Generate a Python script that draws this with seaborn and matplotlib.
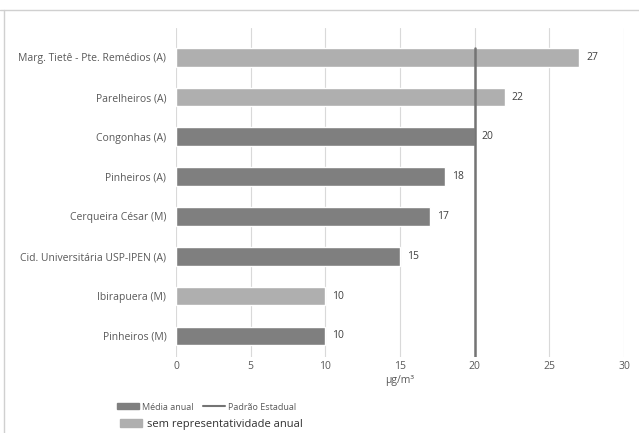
import pandas as pd
import seaborn as sns
import matplotlib.pyplot as plt
from matplotlib.patches import Patch
from matplotlib.lines import Line2D

# dados
estacoes = ["Marg. Tietê - Pte. Remédios (A)", "Parelheiros (A)", "Congonhas (A)",
            "Pinheiros (A)", "Cerqueira César (M)", "Cid. Universitária USP-IPEN (A)",
            "Ibirapuera (M)", "Pinheiros (M)"]
media_anual = [27, 22, 20, 18, 17, 15, 10, 10]
representativo = ["nao", "nao", "sim", "sim", "sim", "sim", "nao", "sim"]
padrao_estadual = 20
x_ticks = [0, 5, 10, 15, 20, 25, 30]

df = pd.DataFrame({"estacao": estacoes, "media": media_anual, "rep": representativo})

cor_escura = "#7f7f7f"
cor_clara = "#afafaf"
cor_linha = "#747474"
cor_texto = "#595959"

sns.set_style("white")
plt.rcParams['font.family'] = ['Open Sans', 'DejaVu Sans']

fig = plt.figure(figsize=(6.39, 4.33), dpi=100)
ax = fig.add_axes([0.2754, 0.1755, 0.7011, 0.7595])

sns.barplot(data=df, x="media", y="estacao", hue="rep", dodge=False,
            palette={"sim": cor_escura, "nao": cor_clara}, width=0.47,
            legend=False, ax=ax, zorder=2)

# rótulos de valor
for cont in ax.containers:
    ax.bar_label(cont, padding=5, fontsize=7.5, color="#404040")

# linha do padrão estadual
ax.plot([padrao_estadual, padrao_estadual], [-0.23, 7.53], color=cor_linha, lw=1.8, zorder=3)

ax.set_xlim(0, 30)
ax.set_ylim(7.53, -0.73)
ax.set_xticks(x_ticks)
ax.grid(axis="x", color="#d9d9d9", lw=0.8, zorder=0)
ax.set_xlabel("µg/m³", fontsize=7.5, color=cor_texto, labelpad=2)
ax.set_ylabel("")
ax.tick_params(axis="x", labelsize=7.5, colors=cor_texto, length=0, pad=3)
ax.tick_params(axis="y", labelsize=7.5, colors=cor_texto, length=0, pad=7)
for s in ax.spines.values():
    s.set_visible(False)

# legenda
h1 = [Patch(color=cor_escura), Line2D([], [], color=cor_linha, lw=1.5)]
leg1 = fig.legend(h1, ["Média anual", "Padrão Estadual"], loc="center left",
                  bbox_to_anchor=(0.17, 0.06), ncol=2, frameon=False, fontsize=6.5,
                  handlelength=2.5, handleheight=0.6, handletextpad=0.3,
                  columnspacing=1.0, labelcolor=cor_texto)
leg2 = fig.legend([Patch(color=cor_clara)], ["sem representatividade anual"],
                  loc="center left", bbox_to_anchor=(0.172, 0.02), frameon=False,
                  fontsize=8, handlelength=2.0, handleheight=0.7, handletextpad=0.4,
                  labelcolor="#303030")

# moldura
fig.add_artist(Line2D([0, 1], [0.977, 0.977], color="#d0d0d0", lw=1, transform=fig.transFigure))
fig.add_artist(Line2D([0.006, 0.006], [0, 0.977], color="#d0d0d0", lw=1, transform=fig.transFigure))

plt.savefig("out.png", dpi=100)
